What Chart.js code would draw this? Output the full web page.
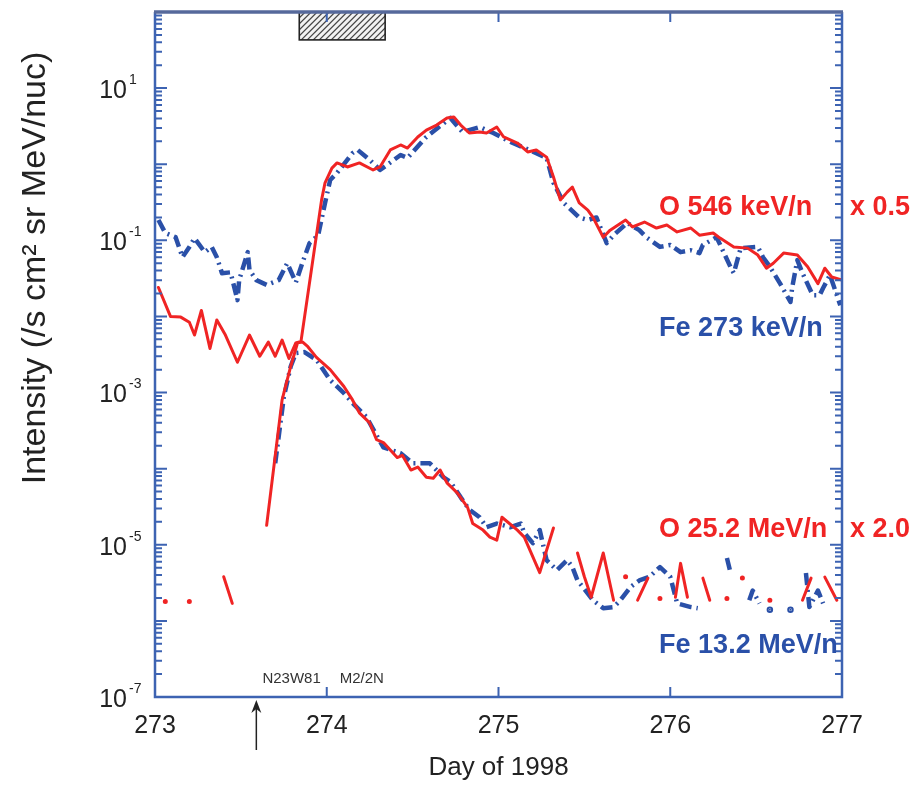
<!DOCTYPE html>
<html lang="en">
<head>
  <meta charset="UTF-8" />
  <title>Intensity - Day of 1998</title>
  <style>
    body { margin: 0; background: #fff; }
    #wrap { width: 917px; height: 785px; position: relative; }
  </style>
  <script src="https://cdn.jsdelivr.net/npm/chart.js"></script>
</head>
<body>
  <div id="wrap"><canvas id="chart"></canvas></div>
<script>
  // values: day of 1998 -> intensity (/s cm2 sr MeV/nuc)
  const oLowDays = [273.02, 273.09, 273.15, 273.20, 273.23, 273.27, 273.32, 273.36, 273.41, 273.48,
    273.55, 273.61, 273.66, 273.70, 273.74, 273.78, 273.82, 273.85, 273.97, 273.99,
    274.03, 274.06, 274.12, 274.19, 274.27, 274.31, 274.37, 274.43, 274.47, 274.53,
    274.58, 274.64, 274.70, 274.74, 274.78, 274.83, 274.89, 274.93, 274.99, 275.03,
    275.11, 275.17, 275.22, 275.28, 275.32, 275.36, 275.40, 275.43, 275.47, 275.52,
    275.55, 275.61, 275.65, 275.74, 275.78, 275.85, 275.92, 275.98, 276.04, 276.12,
    276.17, 276.25, 276.29, 276.37, 276.45, 276.51, 276.56, 276.60, 276.66, 276.74,
    276.80, 276.86, 276.90, 276.94, 277.00]
  const oLowVals = [2.4e-2, 1.0e-2, 9.8e-3, 8.4e-3, 5.7e-3, 1.2e-2, 3.8e-3, 9.0e-3, 5.7e-3, 2.5e-3,
    5.7e-3, 3.0e-3, 4.6e-3, 3.0e-3, 4.9e-3, 2.8e-3, 4.5e-3, 4.7e-3, 0.34, 0.57,
    0.89, 1.04, 0.92, 1.04, 0.84, 0.92, 1.54, 1.79, 1.63, 2.28,
    2.81, 3.27, 4.05, 4.17, 3.27, 2.57, 2.65, 2.57, 3.08, 2.28,
    1.90, 1.45, 1.54, 1.24, 0.68, 0.34, 0.43, 0.50, 0.31, 0.25,
    0.20, 0.110, 0.136, 0.185, 0.150, 0.174, 0.145, 0.159, 0.129, 0.145,
    0.117, 0.125, 0.107, 0.082, 0.079, 0.064, 0.043, 0.050, 0.068, 0.064,
    0.045, 0.027, 0.043, 0.033, 0.030]

  const feLowDays = [273.02, 273.06, 273.12, 273.16, 273.20, 273.23, 273.29, 273.33, 273.36, 273.39,
    273.44, 273.48, 273.49, 273.54, 273.55, 273.59, 273.65, 273.72, 273.77, 273.82,
    273.86, 273.90, 273.95, 273.99, 274.02, 274.06, 274.15, 274.18, 274.25, 274.31,
    274.43, 274.47, 274.58, 274.72, 274.79, 274.89, 274.97, 275.07, 275.14, 275.22,
    275.28, 275.32, 275.38, 275.47, 275.52, 275.57, 275.63, 275.67, 275.75, 275.82,
    275.86, 275.94, 276.00, 276.06, 276.12, 276.17, 276.19, 276.27, 276.35, 276.37,
    276.41, 276.51, 276.54, 276.58, 276.64, 276.70, 276.71, 276.74, 276.77, 276.83,
    276.87, 276.89, 276.93, 276.99]
  const feLowVals = [0.185, 0.125, 0.110, 0.060, 0.082, 0.107, 0.070, 0.082, 0.060, 0.037,
    0.038, 0.0164, 0.030, 0.070, 0.041, 0.030, 0.026, 0.030, 0.050, 0.028,
    0.052, 0.092, 0.117, 0.31, 0.62, 0.77, 1.40, 1.54, 1.14, 0.84,
    1.32, 1.21, 2.28, 4.05, 2.65, 3.08, 2.57, 1.96, 1.68, 1.40,
    1.21, 0.57, 0.31, 0.20, 0.185, 0.20, 0.092, 0.117, 0.169, 0.136,
    0.110, 0.082, 0.087, 0.070, 0.074, 0.068, 0.087, 0.110, 0.045, 0.037,
    0.079, 0.082, 0.060, 0.045, 0.027, 0.0155, 0.024, 0.055, 0.037, 0.019,
    0.019, 0.0236, 0.035, 0.014]

  // null = no data (gap in the trace)
  const oHighDays = [273.06, 273.13, 273.20, 273.30, 273.40, 273.45, 273.55, 273.65, 273.74, 273.79,
    273.83, 273.86, 273.89, 273.94, 274.02, 274.10, 274.15, 274.19, 274.25, 274.29,
    274.33, 274.41, 274.44, 274.49, 274.53, 274.58, 274.62, 274.66, 274.70, 274.76,
    274.82, 274.85, 274.91, 274.95, 274.99, 275.02, 275.11, 275.15, 275.24, 275.32,
    275.40, 275.46, 275.50, 275.54, 275.61, 275.67, 275.70, 275.74, 275.78, 275.81,
    275.87, 275.90, 275.94, 276.00, 276.03, 276.06, 276.10, 276.15, 276.19, 276.23,
    276.28, 276.33, 276.38, 276.42, 276.50, 276.58, 276.70, 276.77, 276.82, 276.86,
    276.90, 276.97]
  const oHighVals = [1.8e-6, null, 1.8e-6, null, 3.8e-6, 1.7e-6, null, 1.8e-5, 8.0e-4, 2.2e-3,
    4.5e-3, 4.6e-3, 4.0e-3, 2.9e-3, 2.0e-3, 1.2e-3, 8.0e-4, 5.4e-4, 4.0e-4, 2.4e-4,
    2.2e-4, 1.4e-4, 1.5e-4, 9.6e-5, 1.05e-4, 7.7e-5, 7.5e-5, 9.6e-5, 6.5e-5, 4.8e-5,
    3.1e-5, 1.9e-5, 1.56e-5, 1.26e-5, 1.15e-5, 2.3e-5, 1.56e-5, 1.26e-5, 4.3e-6, 1.66e-5,
    null, 7.8e-6, 3.8e-6, 2.05e-6, 7.8e-6, 1.87e-6, null, 3.8e-6, null, 1.87e-6,
    3.65e-6, null, 1.97e-6, null, 2.05e-6, 5.7e-6, 2.05e-6, null, 3.65e-6, 1.87e-6,
    null, 1.97e-6, null, 3.65e-6, null, 1.87e-6, null, 1.87e-6, 3.65e-6, null,
    3.76e-6, 1.87e-6]

  const feHighDays = [273.70, 273.75, 273.79, 273.82, 273.87, 273.94, 274.02, 274.10, 274.15, 274.23,
    274.33, 274.43, 274.50, 274.60, 274.68, 274.72, 274.78, 274.83, 274.89, 274.93,
    274.99, 275.07, 275.13, 275.15, 275.20, 275.24, 275.28, 275.34, 275.40, 275.43,
    275.46, 275.49, 275.55, 275.61, 275.67, 275.71, 275.77, 275.82, 275.88, 275.94,
    276.00, 276.04, 276.12, 276.16, 276.25, 276.33, 276.35, 276.40, 276.46, 276.48,
    276.52, 276.55, 276.58, 276.64, 276.70, 276.75, 276.79, 276.81, 276.86, 276.89]
  const feHighVals = [1.18e-4, 8.7e-4, 2.2e-3, 3.3e-3, 3.4e-3, 2.7e-3, 1.46e-3, 9.8e-4, 7.3e-4, 4.8e-4,
    1.9e-4, 1.6e-4, 1.18e-4, 1.18e-4, 7.7e-5, 6.7e-5, 4.2e-5, 2.9e-5, 2.3e-5, 1.7e-5,
    1.9e-5, 1.7e-5, 1.9e-5, 1.43e-5, 1.05e-5, 1.56e-5, 6.3e-6, 4.65e-6, 6.3e-6, 5.1e-6,
    3.4e-6, 2.8e-6, 1.87e-6, 1.47e-6, 1.52e-6, 1.87e-6, 2.8e-6, 3.4e-6, 3.8e-6, 5.1e-6,
    3.8e-6, 1.7e-6, 1.52e-6, 1.47e-6, null, 6.7e-6, 4.4e-6, null, 1.87e-6, 2.5e-6,
    1.7e-6, null, 1.4e-6, null, 1.4e-6, null, 4.25e-6, 1.52e-6, 2.5e-6, 1.7e-6]

  const xTicks = [273, 274, 275, 276, 277]
  const yLabelExps = [1, -1, -3, -5, -7]
  const shadedDays = [273.84, 274.34]   // hatched interval at the top
  const flareDay = 273.59               // arrow under the axis

  const FONT = '"Liberation Sans", Arial, Helvetica, sans-serif'
  const RED = '#f02424'
  const BLUE = '#2a50a8'
  const AXIS = '#3d63b2'
  const INK = '#222'

  const seriesLabels = [
    { text: 'O 546 keV/n', color: RED, day: 275.935, val: 0.27 },
    { text: 'x 0.5', color: RED, day: 277.047, val: 0.27 },
    { text: 'Fe 273 keV/n', color: BLUE, day: 275.935, val: 7.0e-3 },
    { text: 'O 25.2 MeV/n', color: RED, day: 275.935, val: 1.6e-5 },
    { text: 'x 2.0', color: RED, day: 277.047, val: 1.6e-5 },
    { text: 'Fe 13.2 MeV/n', color: BLUE, day: 275.935, val: 4.7e-7 },
  ]

  function toPoints(days, vals) {
    return days.map((d, i) => ({ x: d, y: vals[i] }))
  }

  // a sample with gaps on both sides shows up as a dot
  function loneDot(ctx) {
    const d = ctx.dataset.data
    const i = ctx.dataIndex
    if (!d[i] || d[i].y == null) return 0
    const prev = i > 0 ? d[i - 1].y : null
    const next = i < d.length - 1 ? d[i + 1].y : null
    return (prev == null && next == null) ? 1 : 0
  }

  const decor = {
    id: 'decor',
    afterDatasetsDraw(chart) {
      const { ctx, chartArea: a, scales: { x, y } } = chart
      ctx.save()

      // hatched box
      const bx1 = x.getPixelForValue(shadedDays[0])
      const bx2 = x.getPixelForValue(shadedDays[1])
      const by2 = y.getPixelForValue(43)
      ctx.fillStyle = '#f2f2f2'
      ctx.fillRect(bx1, a.top, bx2 - bx1, by2 - a.top)
      ctx.save()
      ctx.beginPath()
      ctx.rect(bx1, a.top, bx2 - bx1, by2 - a.top)
      ctx.clip()
      ctx.strokeStyle = '#444'
      ctx.lineWidth = 1.2
      for (let s = bx1 - 40; s < bx2 + 40; s += 6) {
        ctx.beginPath()
        ctx.moveTo(s, by2)
        ctx.lineTo(s + (by2 - a.top), a.top)
        ctx.stroke()
      }
      ctx.restore()
      ctx.strokeStyle = '#222'
      ctx.lineWidth = 1.6
      ctx.strokeRect(bx1, a.top, bx2 - bx1, by2 - a.top)

      // ticks, inward on all four sides
      ctx.strokeStyle = AXIS
      ctx.lineWidth = 2
      xTicks.forEach(t => {
        const px = x.getPixelForValue(t)
        ctx.beginPath()
        ctx.moveTo(px, a.bottom); ctx.lineTo(px, a.bottom - 10)
        ctx.moveTo(px, a.top); ctx.lineTo(px, a.top + 10)
        ctx.stroke()
      })
      for (let e = -7; e <= 2; e++) {
        for (let m = 1; m <= 9; m++) {
          const v = m * Math.pow(10, e)
          if (v > 100.0001) continue
          const py = y.getPixelForValue(v)
          const len = m === 1 ? 12 : 7
          ctx.beginPath()
          ctx.moveTo(a.left, py); ctx.lineTo(a.left + len, py)
          ctx.moveTo(a.right, py); ctx.lineTo(a.right - len, py)
          ctx.stroke()
        }
      }

      // frame
      ctx.lineWidth = 2.5
      ctx.beginPath()
      ctx.moveTo(a.left, a.top); ctx.lineTo(a.left, a.bottom); ctx.lineTo(a.right, a.bottom); ctx.lineTo(a.right, a.top)
      ctx.stroke()
      ctx.strokeStyle = '#56699b'
      ctx.lineWidth = 3.5
      ctx.beginPath()
      ctx.moveTo(a.left - 1, a.top); ctx.lineTo(a.right + 1, a.top)
      ctx.stroke()

      // y tick labels 10^n
      ctx.fillStyle = INK
      ctx.textBaseline = 'middle'
      yLabelExps.forEach(e => {
        const py = y.getPixelForValue(Math.pow(10, e))
        ctx.font = '25px ' + FONT
        ctx.textAlign = 'right'
        ctx.fillText('10', 127, py + 3)
        ctx.font = '14px ' + FONT
        ctx.textAlign = 'left'
        ctx.fillText(String(e), 129, py - 8)
      })

      // y title
      ctx.save()
      ctx.translate(36, 268)
      ctx.rotate(-Math.PI / 2)
      ctx.font = '34px ' + FONT
      ctx.textAlign = 'center'
      ctx.fillText('Intensity (/s cm² sr MeV/nuc)', 0, 0)
      ctx.restore()

      // series labels
      ctx.font = 'bold 27px ' + FONT
      ctx.textAlign = 'left'
      seriesLabels.forEach(l => {
        ctx.fillStyle = l.color
        ctx.fillText(l.text, x.getPixelForValue(l.day), y.getPixelForValue(l.val))
      })

      // flare note and arrow
      const t274 = x.getPixelForValue(274)
      ctx.fillStyle = '#333'
      ctx.font = '15px ' + FONT
      ctx.textAlign = 'right'
      ctx.fillText('N23W81', t274 - 6, a.bottom - 18)
      ctx.textAlign = 'left'
      ctx.fillText('M2/2N', t274 + 13, a.bottom - 18)

      const ax = x.getPixelForValue(flareDay)
      ctx.strokeStyle = '#222'
      ctx.fillStyle = '#222'
      ctx.lineWidth = 1.5
      ctx.beginPath()
      ctx.moveTo(ax, a.bottom + 10); ctx.lineTo(ax, a.bottom + 53)
      ctx.stroke()
      ctx.beginPath()
      ctx.moveTo(ax, a.bottom + 3)
      ctx.lineTo(ax - 5, a.bottom + 16)
      ctx.lineTo(ax, a.bottom + 12)
      ctx.lineTo(ax + 5, a.bottom + 16)
      ctx.closePath()
      ctx.fill()

      ctx.restore()
    }
  }

  const dashed = { borderColor: BLUE, backgroundColor: BLUE, borderWidth: 4.5, borderDash: [12, 5, 2, 5], borderCapStyle: 'butt' }

  const chartBox = document.querySelector('#chart')
  const chart = new Chart(chartBox, {
    type: 'line',
    data: {
      datasets: [{
        label: 'O 546 keV/n x 0.5',
        data: toPoints(oLowDays, oLowVals),
        borderColor: RED, backgroundColor: RED, borderWidth: 3
      }, {
        label: 'O 25.2 MeV/n x 2.0',
        data: toPoints(oHighDays, oHighVals),
        borderColor: RED, backgroundColor: RED, borderWidth: 3
      }, {
        label: 'Fe 273 keV/n',
        data: toPoints(feLowDays, feLowVals),
        ...dashed
      }, {
        label: 'Fe 13.2 MeV/n',
        data: toPoints(feHighDays, feHighVals),
        ...dashed
      }]
    },
    options: {
      responsive: true,
      maintainAspectRatio: false,
      animation: false,
      spanGaps: false,
      layout: { padding: { top: 12, right: 75, left: 0, bottom: 0 } },
      elements: {
        line: { tension: 0, borderCapStyle: 'round', borderJoinStyle: 'round' },
        point: { radius: loneDot, hoverRadius: 0, borderWidth: 0 }
      },
      plugins: { legend: { display: false }, tooltip: { enabled: false } },
      scales: {
        x: {
          type: 'linear', min: 273, max: 277,
          afterBuildTicks: s => { s.ticks = xTicks.map(v => ({ value: v })) },
          ticks: { font: { family: FONT, size: 25 }, color: INK, padding: 14, maxRotation: 0, callback: v => String(v) },
          grid: { display: false, drawTicks: false },
          border: { display: false },
          title: { display: true, text: 'Day of 1998', color: INK, font: { family: FONT, size: 26 }, padding: { top: 0, bottom: 2 } },
          afterFit: s => { s.height = 88 }
        },
        y: {
          type: 'logarithmic', min: 1e-7, max: 1e2,
          ticks: { display: false },
          grid: { display: false, drawTicks: false },
          border: { display: false },
          afterFit: s => { s.width = 155 }
        }
      }
    },
    plugins: [decor]
  })
</script>
</body>
</html>
